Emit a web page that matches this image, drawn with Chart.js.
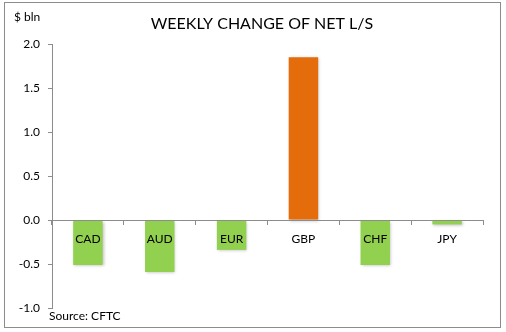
<!DOCTYPE html>
<html>
<head>
<meta charset="utf-8">
<script src="https://cdn.jsdelivr.net/npm/chart.js@4.4.0/dist/chart.umd.min.js"></script>
<style>
  html, body { margin: 0; padding: 0; background: #fff; }
  #wrap { position: relative; width: 506px; height: 332px; }
</style>
</head>
<body>
<div id="wrap"><canvas id="barChart" width="506" height="332"></canvas></div>
<script>
const currencies = ['CAD', 'AUD', 'EUR', 'GBP', 'CHF', 'JPY'];
const netChange = [-0.51, -0.59, -0.34, 1.85, -0.51, -0.05];
const chartTitle = 'WEEKLY CHANGE OF NET L/S';
const unitLabel = '$ bln';
const sourceNote = 'Source: CFTC';

const FONT = 'Lato, "Open Sans", sans-serif';

// frame, title and notes drawn around the plot
const framePlugin = {
  id: 'frame',
  beforeDraw(chart) {
    const ctx = chart.ctx;
    ctx.save();
    ctx.fillStyle = '#fff';
    ctx.fillRect(0, 0, chart.width, chart.height);
    ctx.strokeStyle = '#8c8c8c';
    ctx.lineWidth = 1;
    ctx.strokeRect(4.5, 2.5, 496, 325);
    ctx.restore();
  },
  beforeDatasetsDraw(chart) {
    // soft shadow like the excel bars
    chart.ctx.save();
    chart.ctx.shadowColor = 'rgba(0,0,0,0.25)';
    chart.ctx.shadowBlur = 3;
    chart.ctx.shadowOffsetX = 1;
    chart.ctx.shadowOffsetY = 1;
  },
  afterDatasetsDraw(chart) {
    chart.ctx.restore();
  },
  afterDraw(chart) {
    const ctx = chart.ctx;
    ctx.save();
    ctx.fillStyle = '#000';
    ctx.textBaseline = 'middle';
    ctx.font = '16px ' + FONT;
    ctx.textAlign = 'center';
    ctx.fillText(chartTitle, 262, 24);
    ctx.font = '12px ' + FONT;
    ctx.textAlign = 'left';
    ctx.fillText(unitLabel, 14, 17);
    ctx.fillText(sourceNote, 49, 316);
    ctx.restore();
  }
};

const ctx = document.getElementById('barChart').getContext('2d');
const barChart = new Chart(ctx, {
  type: 'bar',
  data: {
    labels: currencies,
    datasets: [{
      data: netChange,
      backgroundColor: netChange.map(v => v > 0 ? '#E46C0A' : '#92D050'),
      borderWidth: 0,
      barPercentage: 0.41,
      categoryPercentage: 1
    }]
  },
  options: {
    responsive: false,
    animation: false,
    layout: { padding: { left: 0, right: 23, top: 44, bottom: 24 } },
    plugins: {
      legend: { display: false },
      tooltip: { enabled: false }
    },
    scales: {
      x: {
        position: { y: 0 },
        grid: { drawOnChartArea: false, drawTicks: true, tickLength: 4, color: '#8c8c8c', z: 1 },
        border: { color: '#8c8c8c', z: 1 },
        ticks: { color: '#000', font: { family: FONT, size: 12 }, padding: 8, z: 1 }
      },
      y: {
        min: -1,
        max: 2,
        afterFit(scale) { scale.width = 52; },
        grid: { drawOnChartArea: false, drawTicks: true, tickLength: 4, color: '#8c8c8c' },
        border: { color: '#8c8c8c' },
        ticks: {
          stepSize: 0.5,
          color: '#000',
          font: { family: FONT, size: 12 },
          padding: 8,
          callback: v => v.toFixed(1)
        }
      }
    }
  },
  plugins: [framePlugin]
});
</script>
</body>
</html>
